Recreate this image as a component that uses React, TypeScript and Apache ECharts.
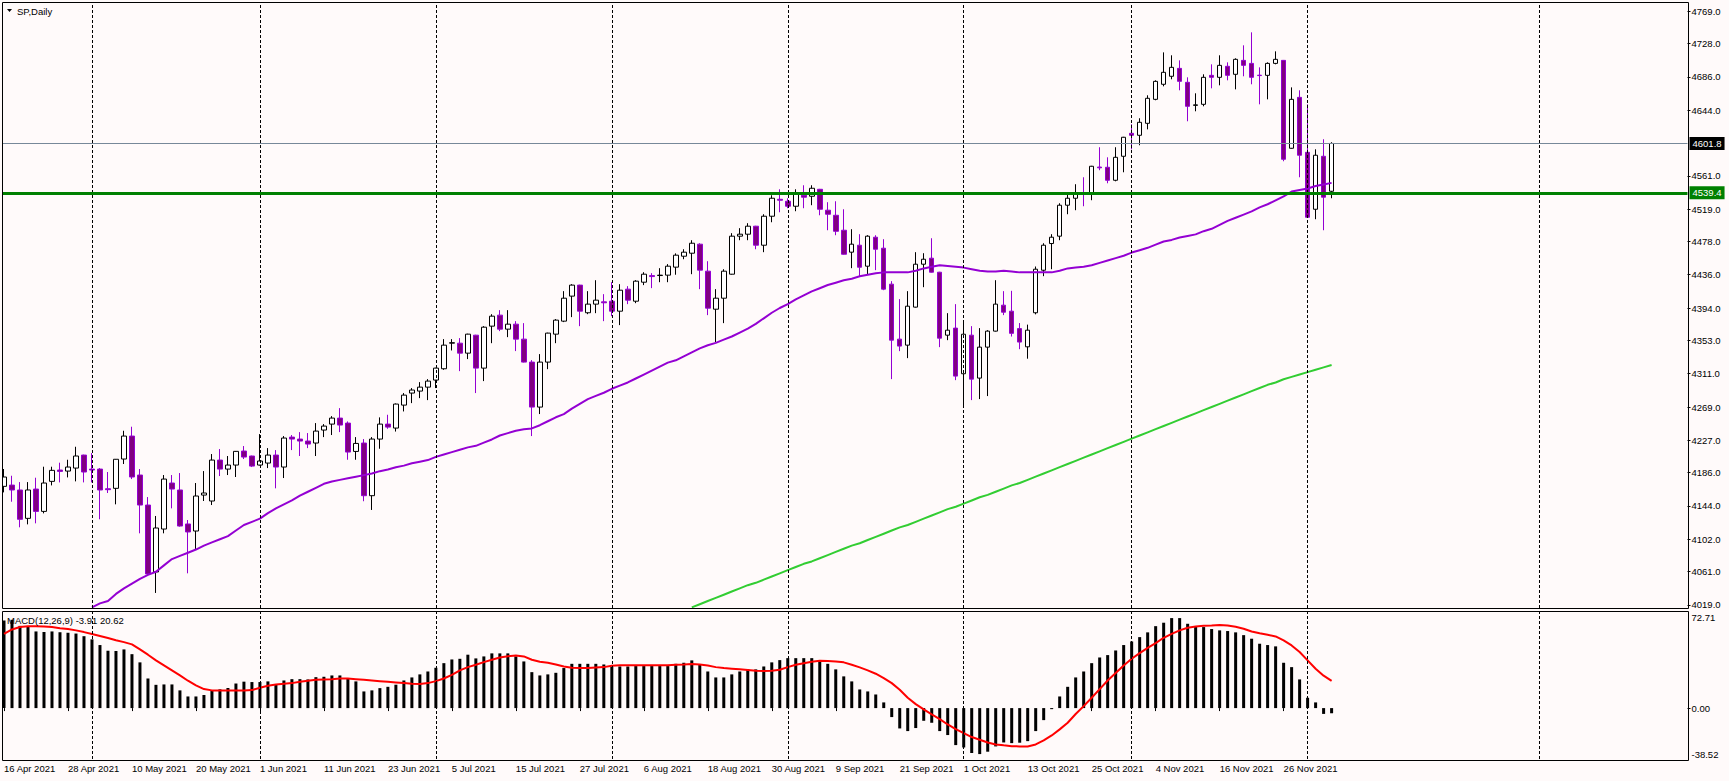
import React, { useEffect, useRef } from "react";
import * as echarts from "echarts";

const W = 1729;
const H = 781;
const BG = "#FFFAFA";
const FONT = "'Liberation Sans', Arial, sans-serif";
const FS = 9.5;

// Trading days (CFD calendar) per month, 2021
const APR = [16, 19, 20, 21, 22, 23, 26, 27, 28, 29, 30];
const MAY = [3, 4, 5, 6, 7, 10, 11, 12, 13, 14, 17, 18, 19, 20, 21, 24, 25, 26, 27, 28, 31];
const JUN = [1, 2, 3, 4, 7, 8, 9, 10, 11, 14, 15, 16, 17, 18, 21, 22, 23, 24, 25, 28, 29, 30];
const JUL = [1, 2, 5, 6, 7, 8, 9, 12, 13, 14, 15, 16, 19, 20, 21, 22, 23, 26, 27, 28, 29, 30];
const AUG = [2, 3, 4, 5, 6, 9, 10, 11, 12, 13, 16, 17, 18, 19, 20, 23, 24, 25, 26, 27, 30, 31];
const SEP = [1, 2, 3, 6, 7, 8, 9, 10, 13, 14, 15, 16, 17, 20, 21, 22, 23, 24, 27, 28, 29, 30];
const OCT = [1, 4, 5, 6, 7, 8, 11, 12, 13, 14, 15, 18, 19, 20, 21, 22, 25, 26, 27, 28, 29];
const NOV = [1, 2, 3, 4, 5, 8, 9, 10, 11, 12, 15, 16, 17, 18, 19, 22, 23, 24, 25, 26, 29, 30];
const DEC = [1, 2, 3, 6];
const MONTHS: [string, number[]][] = [
  ["Apr", APR], ["May", MAY], ["Jun", JUN], ["Jul", JUL], ["Aug", AUG],
  ["Sep", SEP], ["Oct", OCT], ["Nov", NOV], ["Dec", DEC],
];

const OPEN = [
  4168.8, 4170.4, 4164.2, 4128.4, 4165.4, 4137.2, 4175.1, 4189.4, 4188.1, 4191.9,
  4208.3, 4190.6, 4190.6, 4165.8, 4166.3, 4203.3, 4232.3, 4183.1, 4145.2, 4060.7,
  4114.9, 4173.0, 4164.2, 4121.3, 4112.4, 4157.8, 4150.3, 4202.0, 4190.6, 4195.7,
  4213.4, 4207.1, 4195.7, 4198.2, 4208.3, 4193.2, 4231.0, 4228.5, 4226.0, 4223.5,
  4239.9, 4247.4, 4255.0, 4248.7, 4212.9, 4223.5, 4157.0, 4228.5, 4247.4, 4242.4,
  4271.4, 4286.6, 4289.1, 4294.1, 4303.0, 4317.3, 4349.6, 4349.6, 4337.0, 4359.7,
  4318.1, 4371.1, 4385.0, 4367.3, 4373.6, 4354.7, 4325.7, 4268.9, 4325.7, 4361.0,
  4377.4, 4409.0, 4422.9, 4388.0, 4398.9, 4401.8, 4402.6, 4390.0, 4417.8, 4402.6,
  4426.6, 4434.9, 4435.0, 4435.5, 4445.6, 4459.4, 4463.2, 4474.6, 4440.5, 4392.5,
  4406.4, 4436.7, 4484.7, 4487.2, 4497.3, 4473.3, 4509.9, 4531.3, 4528.8, 4522.5,
  4536.4, 4535.1, 4543.9, 4517.5, 4511.1, 4492.2, 4464.5, 4473.3, 4446.8, 4483.4,
  4469.5, 4424.1, 4354.7, 4347.1, 4395.1, 4449.3, 4456.9, 4439.2, 4359.7, 4368.6,
  4311.0, 4359.7, 4305.5, 4344.6, 4364.8, 4397.6, 4390.0, 4368.0, 4345.0, 4388.0,
  4441.7, 4475.4, 4484.7, 4523.8, 4532.6, 4538.9, 4538.9, 4572.0, 4571.7, 4555.3,
  4585.6, 4614.6, 4612.1, 4627.2, 4657.5, 4676.5, 4686.6, 4696.6, 4679.0, 4649.9,
  4651.2, 4687.8, 4685.3, 4699.2, 4689.1, 4706.7, 4702.9, 4688.0, 4687.8, 4702.9,
  4706.7, 4595.7, 4660.0, 4590.6, 4518.7, 4585.6, 4541.4,
];
const HIGH = [
  4190.7, 4182.2, 4174.2, 4174.2, 4179.7, 4193.6, 4193.6, 4198.7, 4202.4, 4218.8,
  4208.8, 4210.8, 4191.9, 4186.9, 4203.3, 4239.0, 4244.1, 4190.7, 4155.3, 4131.4,
  4183.1, 4183.1, 4185.6, 4126.3, 4173.0, 4188.1, 4209.6, 4215.9, 4207.1, 4213.4,
  4219.7, 4207.6, 4234.8, 4217.1, 4214.6, 4232.3, 4233.6, 4237.3, 4236.1, 4248.7,
  4247.4, 4257.5, 4267.6, 4250.8, 4231.0, 4228.5, 4231.0, 4255.9, 4259.2, 4273.5,
  4286.6, 4292.9, 4300.4, 4304.2, 4318.5, 4354.7, 4354.7, 4356.0, 4361.5, 4360.2,
  4371.1, 4386.2, 4391.3, 4391.3, 4377.4, 4374.9, 4328.2, 4335.8, 4362.8, 4380.0,
  4415.3, 4424.1, 4423.4, 4415.3, 4429.1, 4411.5, 4426.6, 4424.1, 4421.6, 4429.1,
  4439.2, 4438.0, 4444.3, 4449.4, 4463.0, 4468.2, 4479.6, 4475.8, 4453.1, 4417.8,
  4443.0, 4488.5, 4494.8, 4501.1, 4497.8, 4512.4, 4536.4, 4543.9, 4532.6, 4543.9,
  4549.0, 4549.0, 4544.4, 4527.6, 4528.8, 4518.7, 4493.5, 4487.2, 4485.9, 4485.9,
  4480.9, 4427.9, 4405.2, 4415.3, 4464.5, 4463.2, 4482.1, 4439.7, 4387.5, 4398.9,
  4377.4, 4371.1, 4368.6, 4366.0, 4429.1, 4415.3, 4415.7, 4375.0, 4373.0, 4446.4,
  4475.8, 4487.2, 4526.3, 4540.2, 4550.3, 4559.1, 4573.5, 4597.0, 4584.3, 4597.0,
  4610.1, 4626.0, 4633.6, 4662.6, 4681.5, 4716.8, 4713.1, 4706.7, 4685.3, 4665.1,
  4689.1, 4701.7, 4713.1, 4704.2, 4709.3, 4725.7, 4742.1, 4697.9, 4704.2, 4718.1,
  4707.2, 4672.6, 4668.9, 4651.2, 4594.4, 4607.1, 4603.3,
];
const LOW = [
  4161.2, 4149.4, 4117.1, 4120.8, 4122.1, 4134.7, 4170.0, 4173.8, 4180.1, 4175.1,
  4173.8, 4173.8, 4127.2, 4160.4, 4146.1, 4197.0, 4178.0, 4109.5, 4057.5, 4034.2,
  4109.5, 4141.0, 4117.9, 4059.0, 4088.4, 4150.3, 4145.2, 4181.8, 4183.1, 4180.6,
  4203.3, 4193.2, 4195.2, 4191.9, 4166.3, 4179.3, 4214.6, 4207.1, 4217.1, 4207.1,
  4231.0, 4233.6, 4237.3, 4202.4, 4202.4, 4150.0, 4139.0, 4216.3, 4241.5, 4238.0,
  4263.4, 4273.9, 4280.2, 4277.7, 4292.9, 4316.0, 4340.4, 4314.3, 4329.5, 4286.6,
  4301.7, 4349.6, 4364.8, 4357.2, 4339.6, 4325.2, 4232.3, 4260.1, 4316.8, 4349.6,
  4376.2, 4382.5, 4371.1, 4386.2, 4387.5, 4377.4, 4383.7, 4372.4, 4398.9, 4400.1,
  4422.9, 4419.1, 4426.6, 4426.6, 4436.0, 4455.6, 4436.7, 4417.8, 4385.0, 4350.9,
  4374.9, 4436.2, 4479.6, 4479.6, 4468.2, 4464.5, 4502.3, 4514.9, 4520.0, 4516.2,
  4520.0, 4523.8, 4511.1, 4492.2, 4485.9, 4461.4, 4444.3, 4434.2, 4436.7, 4441.8,
  4416.5, 4304.2, 4339.5, 4330.7, 4394.6, 4420.3, 4438.7, 4344.6, 4353.4, 4302.9,
  4268.9, 4277.7, 4279.0, 4282.8, 4364.3, 4385.0, 4358.0, 4342.0, 4330.0, 4386.0,
  4434.2, 4443.0, 4479.6, 4512.4, 4517.5, 4522.5, 4530.1, 4568.0, 4551.5, 4554.0,
  4565.4, 4594.4, 4599.5, 4619.6, 4656.3, 4673.9, 4682.8, 4668.9, 4629.8, 4642.4,
  4648.7, 4671.4, 4675.2, 4681.5, 4670.1, 4686.6, 4676.5, 4651.2, 4657.5, 4701.7,
  4579.3, 4595.2, 4559.1, 4508.1, 4506.1, 4492.2, 4532.6,
];
const CLOSE = [
  4180.6, 4164.2, 4127.2, 4164.2, 4137.2, 4173.0, 4189.0, 4187.7, 4193.2, 4207.1,
  4186.9, 4189.4, 4164.2, 4164.6, 4203.0, 4232.3, 4180.6, 4145.2, 4058.2, 4116.2,
  4178.0, 4165.4, 4118.7, 4111.2, 4156.6, 4160.4, 4202.0, 4190.6, 4195.7, 4213.0,
  4205.8, 4194.4, 4200.8, 4208.3, 4193.2, 4229.8, 4228.5, 4226.0, 4222.2, 4238.6,
  4244.9, 4255.0, 4246.2, 4212.1, 4223.0, 4157.0, 4228.5, 4247.4, 4243.6, 4272.7,
  4284.0, 4290.4, 4294.1, 4301.7, 4318.1, 4347.1, 4350.2, 4337.0, 4361.0, 4318.1,
  4369.8, 4383.7, 4367.3, 4373.6, 4354.7, 4325.7, 4268.9, 4325.7, 4362.3, 4378.7,
  4406.4, 4422.9, 4390.0, 4398.9, 4403.9, 4400.6, 4390.0, 4416.5, 4403.9, 4427.9,
  4436.7, 4433.7, 4435.5, 4446.8, 4460.7, 4464.5, 4475.8, 4441.8, 4393.8, 4406.4,
  4440.5, 4484.7, 4487.2, 4497.3, 4473.3, 4509.9, 4532.6, 4530.1, 4522.5, 4537.7,
  4533.9, 4545.2, 4518.7, 4512.4, 4490.9, 4461.9, 4474.6, 4445.5, 4484.7, 4468.2,
  4417.8, 4353.4, 4345.9, 4396.3, 4449.3, 4455.6, 4439.2, 4355.9, 4366.0, 4308.0,
  4360.9, 4304.2, 4344.6, 4364.8, 4398.9, 4388.7, 4362.0, 4351.0, 4366.0, 4443.0,
  4473.3, 4483.4, 4523.8, 4532.6, 4538.9, 4537.6, 4573.0, 4571.0, 4555.3, 4584.3,
  4609.6, 4612.1, 4628.5, 4658.8, 4680.2, 4691.6, 4697.9, 4680.2, 4648.7, 4650.5,
  4685.3, 4685.3, 4700.4, 4687.8, 4708.0, 4700.4, 4685.3, 4687.5, 4702.9, 4708.0,
  4581.8, 4657.5, 4586.9, 4508.6, 4586.9, 4533.9, 4601.8,
];

// Moving averages (null where the line is not drawn)
const MA_PURPLE = [
  null, null, null, null, null, null, null, null, null, null, null,
  4016, 4021, 4024, 4033, 4040, 4046, 4052, 4057, 4061, 4069,
  4077, 4081, 4085, 4089, 4094, 4098, 4102, 4106, 4113, 4120,
  4124, 4128, 4135, 4141, 4146, 4151, 4157, 4162, 4167, 4172,
  4175, 4177, 4179, 4181, 4183, 4185, 4188, 4190, 4193, 4195,
  4198, 4200, 4202, 4206, 4209, 4212, 4215, 4218, 4220, 4224,
  4228, 4233, 4236, 4239, 4241, 4242, 4246, 4251, 4256, 4260,
  4267, 4273, 4279, 4283, 4287, 4292, 4296, 4300, 4305, 4310,
  4315, 4320, 4325, 4328, 4333, 4338, 4343, 4347, 4350, 4354,
  4358, 4363, 4368, 4374, 4381, 4388, 4394, 4399, 4405, 4410,
  4415, 4419, 4423, 4426, 4429, 4431, 4434, 4436, 4438, 4439,
  4439, 4439, 4439, 4441, 4444, 4446, 4448, 4447, 4446, 4445,
  4443, 4441, 4440, 4440, 4441, 4440, 4439, 4439, 4439, 4439,
  4439, 4441, 4444, 4445, 4446, 4448, 4451, 4454, 4457, 4460,
  4464, 4467, 4470, 4474, 4478, 4480, 4483, 4485, 4487, 4491,
  4494, 4499, 4504, 4508, 4512, 4516, 4521, 4525, 4530, 4535,
  4541, 4543, 4545, 4548, 4550, 4552,
];
const MA_GREEN_START = 86;
const MA_GREEN_VALUES = [
  4016, 4020, 4024, 4028, 4032, 4036, 4040, 4044, 4047, 4051,
  4055, 4059, 4063, 4067, 4071, 4074, 4078, 4082, 4086, 4090,
  4094, 4097, 4101, 4105, 4109, 4113, 4117, 4120, 4124, 4128,
  4132, 4136, 4140, 4143, 4147, 4151, 4155, 4158, 4162, 4166,
  4170, 4173, 4177, 4181, 4185, 4189, 4193, 4197, 4201, 4205,
  4209, 4213, 4217, 4221, 4225, 4229, 4233, 4237, 4241, 4245,
  4249, 4253, 4257, 4261, 4265, 4269, 4273, 4277, 4281, 4285,
  4289, 4293, 4297, 4300, 4304, 4307, 4310, 4313, 4316, 4319,
  4322,
];

const MACD_MAIN = [
  66.3, 66.8, 62.2, 61.5, 58.0, 57.6, 58.0, 57.4, 57.0, 56.4,
  54.4, 52.0, 47.7, 43.4, 43.2, 44.4, 40.8, 34.6, 22.4, 17.6,
  17.9, 17.9, 13.4, 8.8, 8.8, 9.9, 13.4, 14.2, 15.2, 18.6,
  20.0, 19.7, 19.7, 20.2, 17.9, 20.9, 21.9, 21.9, 21.7, 23.4,
  23.7, 24.7, 24.7, 22.2, 20.2, 12.6, 13.4, 15.1, 16.1, 17.7,
  20.9, 23.2, 25.5, 27.7, 30.5, 34.0, 36.8, 37.3, 40.4, 37.6,
  39.1, 41.4, 41.4, 41.4, 39.1, 35.3, 27.2, 24.7, 25.5, 26.7,
  30.3, 33.5, 33.5, 33.5, 33.5, 33.0, 31.5, 31.5, 31.5, 31.8,
  31.8, 31.8, 31.8, 31.8, 33.5, 34.3, 36.1, 32.8, 27.7, 23.2,
  23.2, 25.5, 27.7, 29.3, 29.3, 31.5, 34.6, 36.3, 37.8, 37.8,
  37.8, 37.8, 36.1, 33.5, 29.3, 24.0, 20.2, 14.1, 12.6, 10.3,
  4.3, -6.8, -15.4, -17.4, -15.1, -9.6, -11.1, -17.4, -20.4, -28.0,
  -29.8, -34.0, -34.8, -33.0, -29.0, -26.0, -26.5, -26.2, -25.0, -17.4,
  -9.1, -0.8, 8.8, 16.1, 23.2, 27.7, 34.0, 38.3, 40.1, 43.6,
  47.7, 50.4, 53.7, 57.3, 62.0, 64.6, 68.1, 68.1, 63.8, 62.0,
  61.3, 59.8, 58.8, 58.3, 57.3, 55.2, 52.5, 48.7, 47.7, 46.7,
  34.3, 31.0, 21.7, 7.8, 4.3, -4.4, -3.91,
];
const MACD_SIGNAL = [
  56.2, 59.5, 61.3, 62.0, 62.0, 61.8, 61.3, 60.5, 59.8, 58.8,
  57.5, 56.0, 54.5, 53.0, 51.4, 49.9, 48.2, 44.4, 40.4, 36.1,
  32.3, 28.5, 24.7, 20.7, 17.2, 14.4, 13.4, 13.4, 13.4, 13.4,
  13.4, 13.6, 15.4, 16.9, 17.9, 18.4, 18.9, 19.9, 20.7, 21.4,
  21.7, 21.9, 22.4, 22.4, 21.9, 21.4, 20.9, 20.4, 19.9, 19.4,
  18.9, 18.4, 18.2, 18.9, 20.4, 22.4, 25.2, 28.5, 31.0, 32.8,
  34.8, 36.6, 38.3, 39.3, 39.8, 39.1, 36.6, 35.1, 34.3, 33.0,
  31.5, 30.5, 30.3, 30.3, 30.8, 31.0, 32.0, 32.5, 32.5, 32.5,
  32.5, 32.5, 32.5, 32.5, 32.8, 33.0, 33.3, 33.0, 32.3, 31.0,
  30.3, 29.8, 29.3, 28.8, 28.2, 28.0, 28.2, 29.0, 31.0, 32.8,
  34.0, 35.1, 35.8, 35.6, 35.3, 34.6, 32.8, 30.8, 28.5, 26.0,
  22.7, 18.9, 13.9, 7.8, 3.0, -1.0, -4.8, -8.3, -12.4, -15.9,
  -18.9, -21.9, -24.0, -26.0, -27.5, -28.2, -28.8, -29.0, -29.0, -27.5,
  -24.5, -20.7, -16.1, -11.1, -4.5, 1.5, 7.8, 14.4, 20.9, 26.5,
  32.3, 37.3, 41.6, 45.6, 49.2, 53.2, 56.2, 58.8, 60.8, 61.8,
  62.3, 62.5, 62.8, 62.5, 61.5, 60.0, 58.0, 56.7, 55.5, 54.2,
  51.2, 47.4, 42.4, 36.1, 29.8, 24.5, 20.62,
];

const PRICE_TICKS = [4019, 4061, 4102, 4144, 4186, 4227, 4269, 4311, 4353, 4394, 4436, 4478, 4519, 4561, 4644, 4686, 4728, 4769];
const MACD_MAX = 72.71;
const MACD_MIN = -38.52;
const CURRENT_PRICE = 4601.8;
const LEVEL_LINE = 4539.4;
const MACD_TITLE = "MACD(12,26,9) -3.91 20.62";
const SYMBOL_TITLE = "SP,Daily";
const GRID_BARS = [11, 32, 54, 76, 98, 120, 141, 163, 192];
const TOTAL_SLOTS = 211;

export default function App() {
  const ref = useRef<HTMLDivElement>(null);

  useEffect(() => {
    const el = ref.current;
    if (!el) return;
    const chart = echarts.init(el, null, { renderer: "svg" });

    const dates: string[] = [];
    MONTHS.forEach(([m, days]) => days.forEach((d) => dates.push(`${d} ${m} 2021`)));
    const categories = dates.concat(Array(TOTAL_SLOTS - dates.length).fill(""));
    const candles = OPEN.map((o, i) => [o, CLOSE[i], LOW[i], HIGH[i]]);
    const green = Array(MA_GREEN_START).fill(null).concat(MA_GREEN_VALUES);
    const empties = dates.map(() => null);

    const gridMark = {
      silent: true,
      symbol: ["none", "none"],
      label: { show: false },
      lineStyle: { color: "#000", width: 1, type: [3, 2] },
      data: GRID_BARS.map((b) => ({ xAxis: b })),
    };

    const priceLabel = (bg: string, v: number) => ({
      show: true,
      position: "end",
      formatter: v.toFixed(1),
      backgroundColor: bg,
      color: "#fff",
      padding: [2, 3, 1, 3],
      distance: 2,
      fontSize: FS,
      fontFamily: FONT,
    });

    const option: any = {
      animation: false,
      backgroundColor: BG,
      textStyle: { fontFamily: FONT },
      grid: [
        { left: -0.5, top: 2, width: 1688, height: 606 },
        { left: -0.5, top: 612, width: 1688, height: 147 },
      ],
      xAxis: [
        {
          type: "category", gridIndex: 0, data: categories, boundaryGap: true,
          axisLine: { show: false }, axisTick: { show: false }, axisLabel: { show: false }, splitLine: { show: false },
        },
        {
          type: "category", gridIndex: 1, data: categories, boundaryGap: true,
          axisLine: { show: false },
          axisTick: {
            show: true, alignWithLabel: true, length: 3, lineStyle: { color: "#000" },
            interval: (i: number, v: string) => i % 8 === 0 && v !== "",
          },
          axisLabel: {
            show: true, align: "left", margin: 4, color: "#000", fontSize: FS, fontFamily: FONT,
            interval: (i: number, v: string) => i % 8 === 0 && v !== "",
          },
          splitLine: { show: false },
        },
      ],
      yAxis: [
        {
          type: "value", gridIndex: 0, position: "right", min: 4015.2, max: 4780.4,
          axisLine: { show: false }, splitLine: { show: false },
          axisTick: { show: true, length: 3, customValues: PRICE_TICKS, lineStyle: { color: "#000" } },
          axisLabel: {
            customValues: PRICE_TICKS, margin: 4, color: "#000", fontSize: FS, fontFamily: FONT,
            formatter: (v: number) => v.toFixed(1),
          },
        },
        {
          type: "value", gridIndex: 1, position: "right", min: MACD_MIN, max: MACD_MAX,
          axisLine: { show: false }, splitLine: { show: false },
          axisTick: { show: true, length: 3, customValues: [0], lineStyle: { color: "#000" } },
          axisLabel: {
            customValues: [MACD_MIN, 0, MACD_MAX], margin: 4, color: "#000", fontSize: FS, fontFamily: FONT,
            formatter: (v: number) => (v > 1 ? "{t|" + v.toFixed(2) + "}" : v < -1 ? "{b|" + v.toFixed(2) + "}" : "{n|" + v.toFixed(2) + "}"),
            rich: {
              t: { padding: [10, 0, 0, 0], fontSize: FS, fontFamily: FONT, color: "#000" },
              b: { padding: [0, 0, 10, 0], fontSize: FS, fontFamily: FONT, color: "#000" },
              n: { fontSize: FS, fontFamily: FONT, color: "#000" },
            },
          },
        },
      ],
      series: [
        {
          type: "line", xAxisIndex: 0, yAxisIndex: 0, data: empties, z: 1, silent: true,
          symbol: "none", markLine: gridMark,
        },
        {
          type: "line", xAxisIndex: 1, yAxisIndex: 1, data: empties, z: 1, silent: true,
          symbol: "none", markLine: gridMark,
        },
        {
          type: "candlestick", xAxisIndex: 0, yAxisIndex: 0, data: candles, barWidth: 5, z: 2, silent: true,
          itemStyle: { color: "#FFFFFF", color0: "#800080", borderColor: "#000000", borderColor0: "#9400D3", borderWidth: 1 },
        },
        {
          type: "line", xAxisIndex: 0, yAxisIndex: 0, data: MA_PURPLE, z: 4, silent: true,
          symbol: "none", lineStyle: { color: "#9400D3", width: 2 },
        },
        {
          type: "line", xAxisIndex: 0, yAxisIndex: 0, data: green, z: 4, silent: true,
          symbol: "none", lineStyle: { color: "#32CD32", width: 2 },
        },
        {
          type: "line", xAxisIndex: 0, yAxisIndex: 0, data: empties, z: 5, silent: true, symbol: "none",
          markLine: {
            silent: true, symbol: ["none", "none"],
            data: [
              { yAxis: CURRENT_PRICE, lineStyle: { color: "#778899", width: 1, type: "solid" }, label: priceLabel("#000000", CURRENT_PRICE) },
              { yAxis: LEVEL_LINE, lineStyle: { color: "#008000", width: 3, type: "solid" }, label: priceLabel("#008000", LEVEL_LINE) },
            ],
          },
        },
        {
          type: "bar", xAxisIndex: 1, yAxisIndex: 1, data: MACD_MAIN, barWidth: 3, z: 2, silent: true,
          itemStyle: { color: "#000000" },
        },
        {
          type: "line", xAxisIndex: 1, yAxisIndex: 1, data: MACD_SIGNAL, z: 3, silent: true,
          symbol: "none", lineStyle: { color: "#FF0000", width: 2 },
        },
      ],
      graphic: [
        { type: "rect", z: 90, shape: { x: 0, y: 0, width: 2, height: H }, style: { fill: BG } },
        { type: "rect", z: 100, shape: { x: 2.5, y: 2.5, width: 1686, height: 606 }, style: { fill: "none", stroke: "#000", lineWidth: 1 } },
        { type: "rect", z: 100, shape: { x: 2.5, y: 611.5, width: 1686, height: 149 }, style: { fill: "none", stroke: "#000", lineWidth: 1 } },
        { type: "polygon", z: 100, shape: { points: [[7, 9], [12, 9], [9.5, 12]] }, style: { fill: "#000" } },
        { type: "text", z: 100, style: { text: SYMBOL_TITLE, x: 17, y: 11, fill: "#000", fontSize: FS, fontFamily: FONT, verticalAlign: "middle" } },
        { type: "text", z: 100, style: { text: MACD_TITLE, x: 7, y: 620, fill: "#000", fontSize: FS, fontFamily: FONT, verticalAlign: "middle" } },
      ],
    };

    chart.setOption(option);
    return () => chart.dispose();
  }, []);

  return (
    <div
      ref={ref}
      style={{ position: "fixed", left: 0, top: 0, width: W, height: H, background: BG }}
    />
  );
}
